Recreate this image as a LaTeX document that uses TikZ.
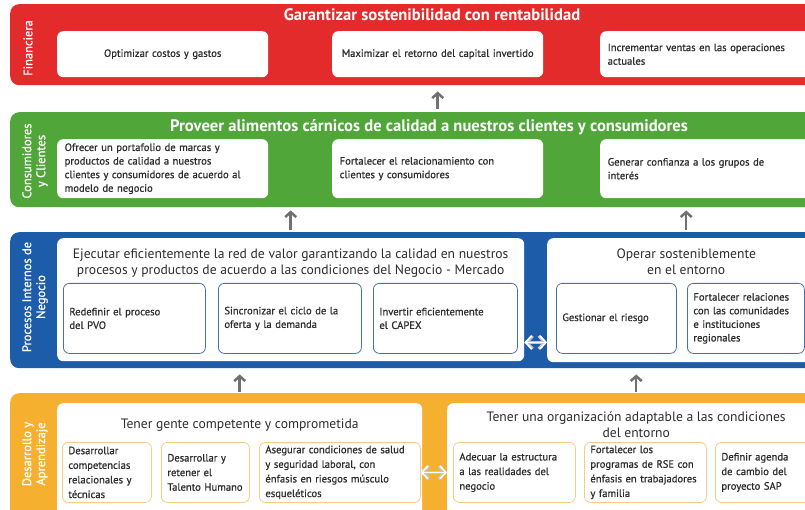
\documentclass[tikz,border=0pt]{standalone}
\usepackage{fontspec}
\setmainfont{PT Sans}
\newfontfamily\medfont[FakeBold=0.8]{PT Sans}
\usetikzlibrary{arrows.meta,positioning}
\hyphenpenalty=10000
\exhyphenpenalty=10000
\definecolor{finred}{RGB}{226,43,42}
\definecolor{cligreen}{RGB}{80,166,56}
\definecolor{problue}{RGB}{28,92,168}
\definecolor{desorange}{RGB}{246,176,48}
\definecolor{blueline}{RGB}{72,112,172}
\definecolor{orangeline}{RGB}{246,204,128}
\definecolor{txtgray}{RGB}{45,45,45}
\definecolor{arrowgray}{RGB}{112,112,112}
\tikzset{
  band/.style={rounded corners=9pt,anchor=north west,inner sep=0pt,minimum width=840pt},
  panel/.style={fill=white,rounded corners=6pt,anchor=north west,inner sep=0pt},
  cell/.style={fill=white,rounded corners=6pt,anchor=north west,inner xsep=6pt,inner ysep=0pt,
    text=txtgray,font=\medfont\fontsize{10.6}{13.6}\selectfont,align=left},
  bluecell/.style={cell,draw=blueline,line width=0.8pt},
  orangecell/.style={cell,draw=orangeline,line width=0.8pt,font=\medfont\fontsize{10.6}{14.6}\selectfont},
  sidelabel/.style={rotate=90,text=white,align=center,font=\medfont\fontsize{12.5}{14}\selectfont},
  bandtitle/.style={text=white,font=\bfseries\fontsize{16.6}{18}\selectfont},
  paneltitle/.style={text=txtgray,align=center,font=\fontsize{13.6}{16.5}\selectfont},
  uparrow/.style={draw=arrowgray,line width=2.5pt,-{Straight Barb[length=5pt,width=11pt]}},
  dblarrow/.style={draw=white,line width=1.6pt,
    {Straight Barb[length=6pt,width=13pt]}-{Straight Barb[length=6pt,width=13pt]},
    preaction={draw=gray!45,line width=3.2pt}}
}
\begin{document}
\begin{tikzpicture}[x=1pt,y=-1pt]
\useasboundingbox (0,0) rectangle (805,510);
\clip (0,0) rectangle (805,510);
% Financiera
\node[band,fill=finred,minimum height=81pt] (fin) at (10,4) {};
\node[sidelabel] (finlab) at (28,48) {Financiera};
\node[bandtitle] (fint) at (432,15) {Garantizar sostenibilidad con rentabilidad};
\node[cell,align=center,text width=199pt,minimum height=46pt] (f1) at (57,31) {Optimizar costos y gastos};
\node[cell,align=center,text width=199pt,minimum height=46pt] (f2) at (332,31) {Maximizar el retorno del capital invertido};
\node[cell,text width=228pt,minimum height=46pt,inner xsep=7.5pt] (f3) at (600,31) {Incrementar ventas en las operaciones\\actuales};
% Consumidores y Clientes
\node[band,fill=cligreen,minimum height=95pt] (cli) at (10,112) {};
\node[sidelabel] (clilab) at (35,161) {Consumidores\\y Clientes};
\node[bandtitle] (clit) at (429,127) {Proveer alimentos cárnicos de calidad a nuestros clientes y consumidores};
\node[cell,text width=196pt,minimum height=59pt,inner xsep=7.5pt] (c1) at (57,139) {Ofrecer un portafolio de marcas y\\productos de calidad a nuestros\\clientes y consumidores de acuerdo al\\modelo de negocio};
\node[cell,text width=196pt,minimum height=59pt,inner xsep=7.5pt] (c2) at (332,139) {Fortalecer el relacionamiento con\\clientes y consumidores};
\node[cell,text width=225pt,minimum height=59pt,inner xsep=7.5pt] (c3) at (600,139) {Generar confianza a los grupos de\\interés};
% Procesos Internos de Negocio
\node[band,fill=problue,minimum height=136pt] (pro) at (10,232) {};
\node[sidelabel] (prolab) at (35,297) {Procesos Internos de\\Negocio};
\node[panel,minimum width=467pt,minimum height=123pt] (p1) at (57,238) {};
\node[paneltitle,below=7pt of p1.north] (p1t) {Ejecutar eficientemente la red de valor garantizando la calidad en nuestros\\procesos y productos de acuerdo a las condiciones del Negocio - Mercado};
\node[panel,minimum width=278pt,minimum height=124pt] (p2) at (547,238) {};
\node[paneltitle,below=7pt of p2.north] (p2t) {Operar sosteniblemente\\en el entorno};
\node[bluecell,text width=130pt,minimum height=70pt] (b1) at (63,283) {Redefinir el proceso\\del PVO};
\node[bluecell,text width=131pt,minimum height=70pt] (b2) at (218,283) {Sincronizar el ciclo de la\\oferta y la demanda};
\node[bluecell,text width=132pt,minimum height=70pt] (b3) at (373,283) {Invertir eficientemente\\el CAPEX};
\node[bluecell,text width=108pt,minimum height=70pt] (b4) at (556,283) {Gestionar el riesgo};
\node[bluecell,text width=105pt,minimum height=70pt] (b5) at (687,283) {Fortalecer relaciones\\con las comunidades\\e instituciones\\regionales};
% Desarrollo y Aprendizaje
\node[band,fill=desorange,minimum height=130pt] (des) at (10,393) {};
\node[sidelabel] (deslab) at (35,454) {Desarrollo y\\Aprendizaje};
\node[panel,minimum width=365pt,minimum height=120pt] (o1) at (57,403) {};
\node[paneltitle,below=12pt of o1.north] (o1t) {Tener gente competente y comprometida};
\node[panel,minimum width=378pt,minimum height=120pt] (o2) at (447,403) {};
\node[paneltitle,below=5pt of o2.north] (o2t) {Tener una organización adaptable a las condiciones\\del entorno};
\node[orangecell,text width=77pt,minimum height=60pt] (d1) at (62,442) {Desarrollar\\competencias\\relacionales y\\técnicas};
\node[orangecell,text width=76pt,minimum height=60pt] (d2) at (161,442) {Desarrollar y\\retener el\\Talento Humano};
\node[orangecell,text width=149pt,minimum height=60pt] (d3) at (259,442) {Asegurar condiciones de salud\\y seguridad laboral, con\\énfasis en riesgos músculo\\esqueléticos};
\node[orangecell,text width=110pt,minimum height=60pt] (d4) at (453,442) {Adecuar la estructura\\a las realidades del\\negocio};
\node[orangecell,text width=110pt,minimum height=60pt] (d5) at (584,442) {Fortalecer los\\programas de RSE con\\énfasis en trabajadores\\y familia};
\node[orangecell,text width=88pt,minimum height=60pt] (d6) at (715,442) {Definir agenda\\de cambio del\\proyecto SAP};
% flechas
\draw[uparrow,shorten <=3pt,shorten >=6pt] (cli.north -| f2.south) -- (fin.south -| f2.south);
\draw[uparrow,shorten <=2pt,shorten >=3pt] (pro.north -| p1.north) -- (cli.south -| p1.north);
\draw[uparrow,shorten <=2pt,shorten >=3pt] (pro.north -| p2.north) -- (cli.south -| p2.north);
\draw[uparrow,shorten <=1pt,shorten >=6pt] (des.north -| o1.north) -- (pro.south -| o1.north);
\draw[uparrow,shorten <=1pt,shorten >=6pt] (des.north -| o2.north) -- (pro.south -| o2.north);
\draw[dblarrow] ([yshift=19pt]p1.south east) -- ([yshift=19pt]p1.south east -| p2.west);
\draw[dblarrow] (d3.east) -- (d3.east -| o2.west);
\end{tikzpicture}
\end{document}
